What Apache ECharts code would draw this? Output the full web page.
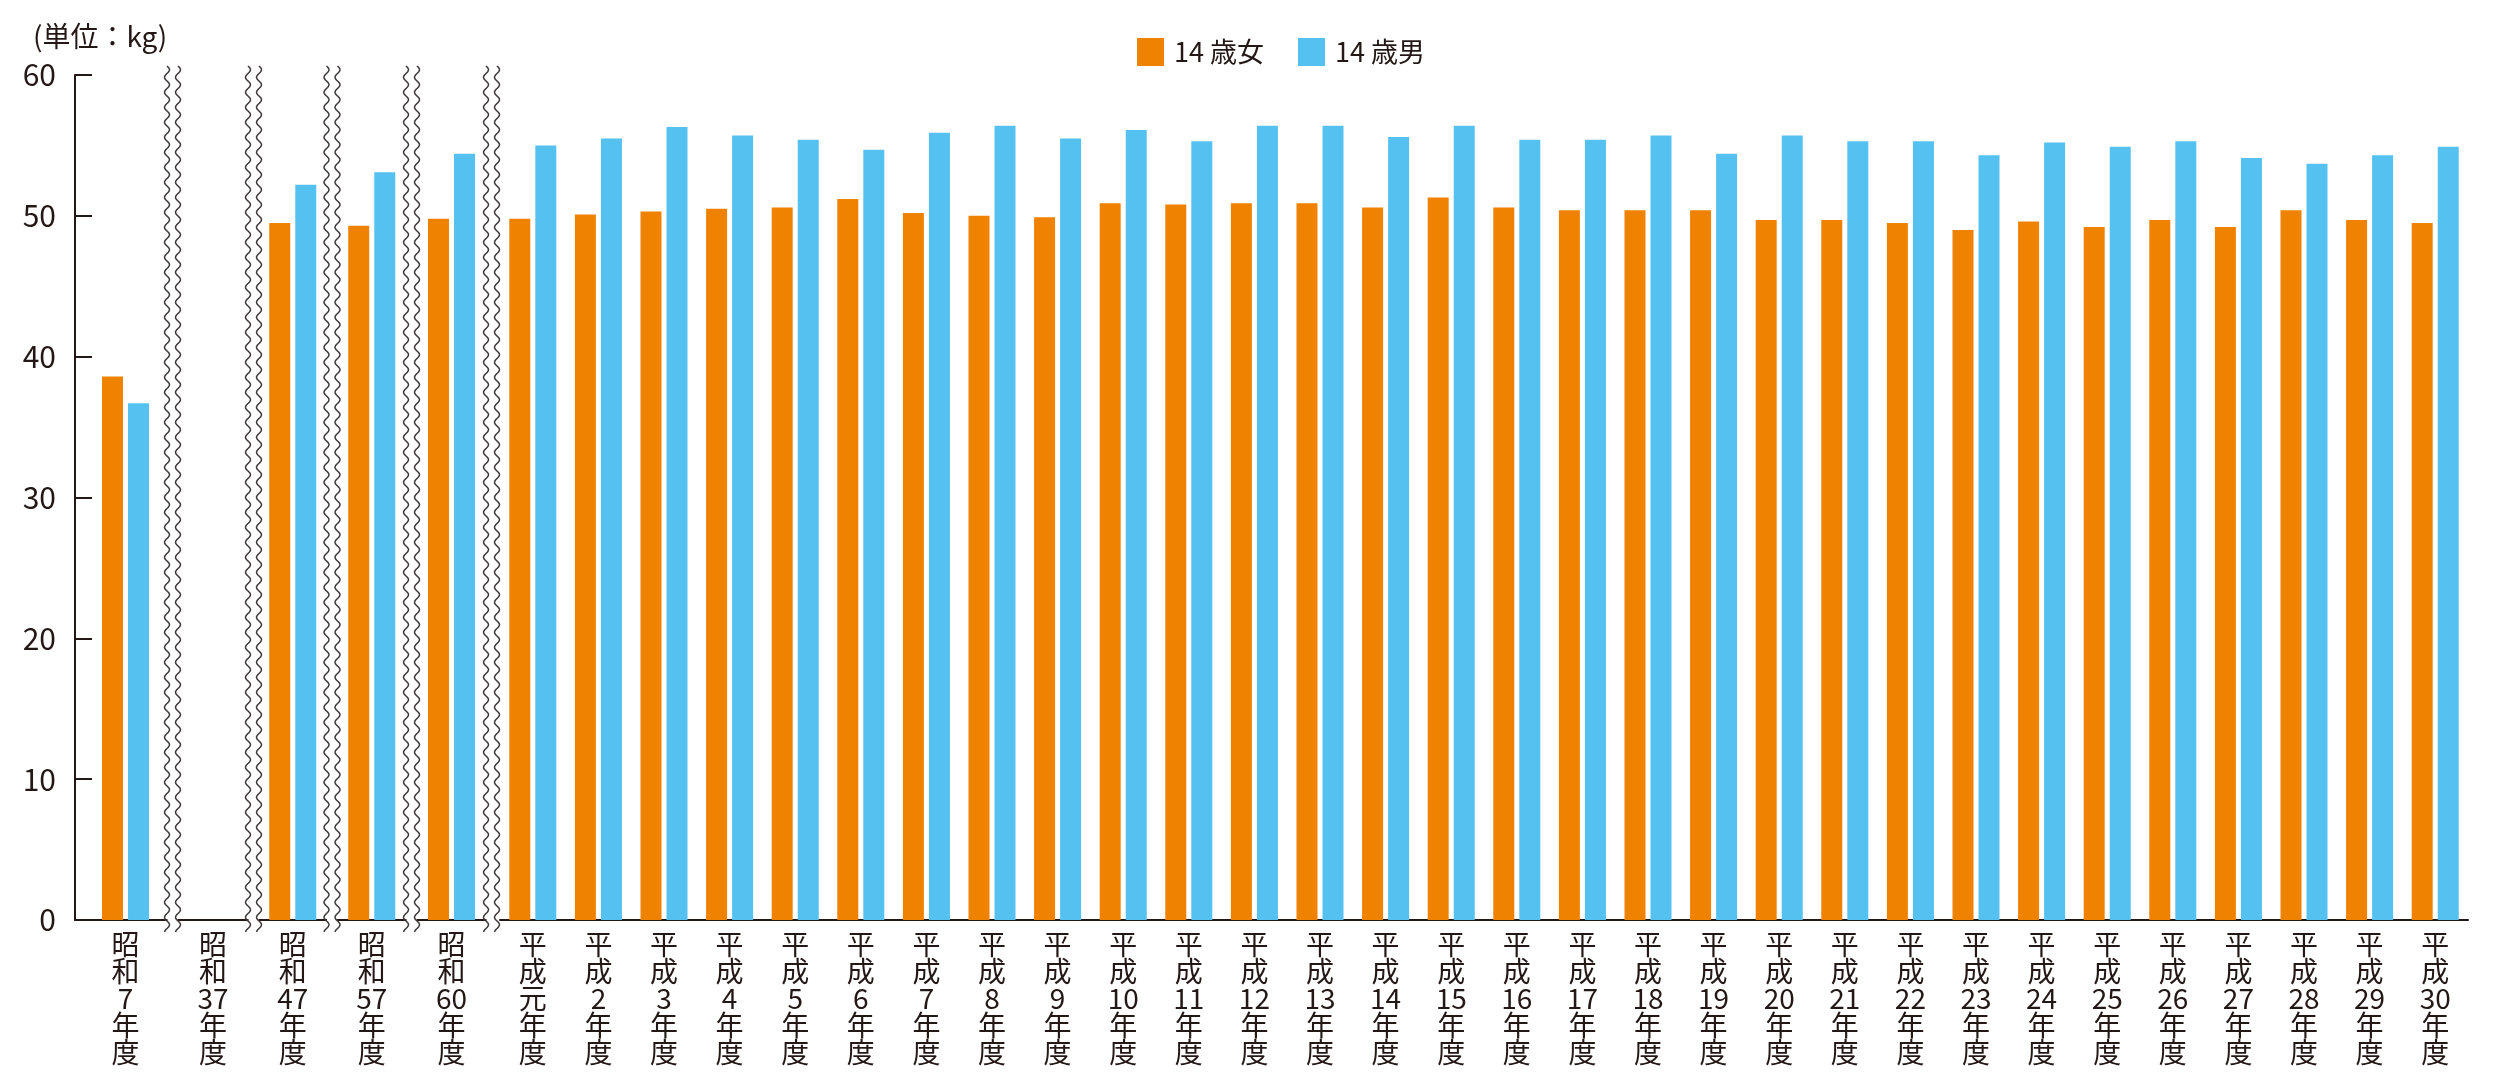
<!DOCTYPE html>
<html>
<head>
<meta charset="utf-8">
<script src="https://cdn.jsdelivr.net/npm/echarts@6/dist/echarts.min.js"></script>
<style>
  html, body { margin: 0; padding: 0; background: #fff; }
  #chart { width: 2500px; height: 1084px; }
</style>
</head>
<body>
<div id="chart"></div>
<script>
// 年度
const showaCats = ['昭和7年度', '昭和37年度', '昭和47年度', '昭和57年度', '昭和60年度'];
const heiseiCats = ['平成元年度', '平成2年度', '平成3年度', '平成4年度', '平成5年度', '平成6年度',
  '平成7年度', '平成8年度', '平成9年度', '平成10年度', '平成11年度', '平成12年度', '平成13年度',
  '平成14年度', '平成15年度', '平成16年度', '平成17年度', '平成18年度', '平成19年度', '平成20年度',
  '平成21年度', '平成22年度', '平成23年度', '平成24年度', '平成25年度', '平成26年度', '平成27年度',
  '平成28年度', '平成29年度', '平成30年度'];

// 14歳女 (kg)
const girlsShowa = [38.6, null, 49.5, 49.3, 49.8];
const girlsHeisei = [49.8, 50.1, 50.3, 50.5, 50.6, 51.2, 50.2, 50.0, 49.9, 50.9,
  50.8, 50.9, 50.9, 50.6, 51.3, 50.6, 50.4, 50.4, 50.4, 49.7,
  49.7, 49.5, 49.0, 49.6, 49.2, 49.7, 49.2, 50.4, 49.7, 49.5];

// 14歳男 (kg)
const boysShowa = [36.7, null, 52.2, 53.1, 54.4];
const boysHeisei = [55.0, 55.5, 56.3, 55.7, 55.4, 54.7, 55.9, 56.4, 55.5, 56.1,
  55.3, 56.4, 56.4, 55.6, 56.4, 55.4, 55.4, 55.7, 54.4, 55.7,
  55.3, 55.3, 54.3, 55.2, 54.9, 55.3, 54.1, 53.7, 54.3, 54.9];

// 縦軸
const yMin = 0, yMax = 60, yStep = 10;

const seriesNames = ['14 歳女', '14 歳男'];
const colors = ['#EF8200', '#55C1F0'];
const ink = '#231815';
const font = "'Noto Sans CJK JP', 'Noto Sans', sans-serif";

// 区切り（波線）で分けた区間ごとに grid を置く
const plotTop = 75, plotBottom = 920;
const bands = [[75, 176], [172.5, 253.5], [253.5, 332], [332, 411.5], [411.5, 491.5], [500, 2468]];
const breaks = [172.5, 253.5, 332, 411.5, 491.5];

const catsPerBand = showaCats.map(c => [c]).concat([heiseiCats]);
const girlsPerBand = girlsShowa.map(v => [v]).concat([girlsHeisei]);
const boysPerBand = boysShowa.map(v => [v]).concat([boysHeisei]);

// 縦書きラベル（数字はまとめて1行）
const vertical = s => s.match(/\d+|./g).join('\n');

const grid = [], xAxis = [], yAxis = [], series = [];
bands.forEach((b, i) => {
  grid.push({
    left: b[0], width: b[1] - b[0], top: plotTop, height: plotBottom - plotTop,
    outerBoundsMode: 'none', containLabel: false
  });
  xAxis.push({
    type: 'category', gridIndex: i, data: catsPerBand[i],
    axisLine: { lineStyle: { color: ink, width: 2 } },
    axisTick: { show: false },
    axisLabel: {
      interval: 0, formatter: vertical, color: ink, fontFamily: font,
      fontSize: 28, lineHeight: 27, margin: 11, verticalAlign: 'top'
    }
  });
  yAxis.push({
    type: 'value', gridIndex: i, min: yMin, max: yMax, interval: yStep,
    show: i === 0,
    axisLine: { show: true, lineStyle: { color: ink, width: 2 } },
    axisTick: { show: true, inside: true, length: 17, lineStyle: { color: ink, width: 2 } },
    axisLabel: { color: ink, fontFamily: font, fontSize: 30, margin: 19 },
    splitLine: { show: false }
  });
  [girlsPerBand[i], boysPerBand[i]].forEach((d, k) => {
    series.push({
      type: 'bar', name: seriesNames[k], xAxisIndex: i, yAxisIndex: i,
      data: d, barWidth: 21, barGap: '24%',
      itemStyle: { color: colors[k] }
    });
  });
});

// 波線
const graphic = [];
breaks.forEach(bx => {
  graphic.push({
    type: 'rect', z: 100,
    shape: { x: bx - 5, y: 66, width: 10, height: 868 },
    style: { fill: '#fff' }
  });
  [-5.5, 5.5].forEach(dx => {
    const pts = [];
    for (let y = 66; y <= 932; y += 1) {
      pts.push([bx + dx + 2.5 * Math.sin(2 * Math.PI * (y - 66) / 15), y]);
    }
    graphic.push({
      type: 'polyline', z: 101,
      shape: { points: pts },
      style: { stroke: '#3e3a39', lineWidth: 1.5, fill: null }
    });
  });
});

const chart = echarts.init(document.getElementById('chart'));
chart.setOption({
  animation: false,
  color: colors,
  textStyle: { fontFamily: font },
  title: {
    text: '(単位：kg)', left: 28, top: 17,
    textStyle: { color: ink, fontFamily: font, fontSize: 28, fontWeight: 'normal' }
  },
  legend: {
    data: seriesNames, left: 1132, top: 33, icon: 'rect',
    itemWidth: 27, itemHeight: 28, itemGap: 34,
    textStyle: { color: ink, fontFamily: font, fontSize: 27, padding: [0, 0, 0, 5] }
  },
  grid, xAxis, yAxis, series, graphic
});
</script>
</body>
</html>
